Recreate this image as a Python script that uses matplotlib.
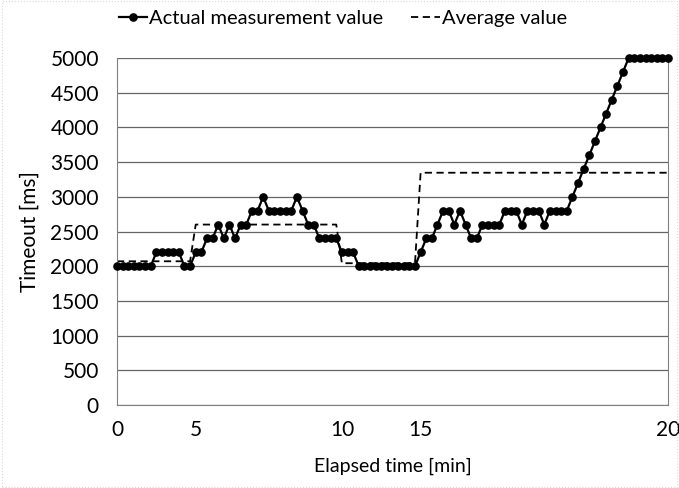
import numpy as np
import matplotlib.pyplot as plt
from matplotlib.patches import Rectangle

plt.rcParams['font.family'] = ['Lato', 'DejaVu Sans']

# Timeout per sample [ms]
measured = [
    2000, 2000, 2000, 2000, 2000, 2000, 2000, 2200, 2200, 2200,
    2200, 2200, 2000, 2000, 2200, 2200, 2400, 2400, 2600, 2400,
    2600, 2400, 2600, 2600, 2800, 2800, 3000, 2800, 2800, 2800,
    2800, 2800, 3000, 2800, 2600, 2600, 2400, 2400, 2400, 2400,
    2200, 2200, 2200, 2000, 2000, 2000, 2000, 2000, 2000, 2000,
    2000, 2000, 2000, 2000, 2200, 2400, 2400, 2600, 2800, 2800,
    2600, 2800, 2600, 2400, 2400, 2600, 2600, 2600, 2600, 2800,
    2800, 2800, 2600, 2800, 2800, 2800, 2600, 2800, 2800, 2800,
    2800, 3000, 3200, 3400, 3600, 3800, 4000, 4200, 4400, 4600,
    4800, 5000, 5000, 5000, 5000, 5000, 5000, 5000, 5000,
]

# Average timeout for each 5-minute block, and samples in each block
avg_levels = [2071, 2600, 2043, 3347]
avg_counts = [14, 26, 14, 45]

# Sample index where each elapsed-time label sits
tick_idx = [0, 14, 40, 54, 98]
tick_labels = ['0', '5', '10', '15', '20']

x = np.arange(len(measured))
average = np.repeat(avg_levels, avg_counts)

fig = plt.figure(figsize=(6.79, 4.88), dpi=100)
ax = fig.add_axes([0.1723, 0.1701, 0.8115, 0.711])

ax.plot(x, measured, color='black', lw=1.6, marker='o', ms=5.2,
        label='Actual measurement value', clip_on=False, zorder=3)
ax.plot(x, average, color='black', lw=1.3, ls=(0, (4, 2.5)),
        label='Average value', zorder=2)

ax.set_xlim(0, len(measured) - 1)
ax.set_ylim(0, 5000)
ax.set_yticks(np.arange(0, 5001, 500))
ax.set_xticks(tick_idx)
ax.set_xticklabels(tick_labels)
ax.tick_params(length=0, labelsize=15)
ax.tick_params(axis='y', pad=13)
ax.tick_params(axis='x', pad=11)

ax.grid(axis='y', color='#666666', lw=0.9)
ax.set_axisbelow(True)
for side in ['left', 'bottom', 'right']:
    ax.spines[side].set_color('#808080')
ax.spines['top'].set_visible(False)

ax.set_xlabel('Elapsed time [min]', fontsize=14)
ax.set_ylabel('Timeout [ms]', fontsize=15)
ax.xaxis.set_label_coords(0.5, -0.152)
ax.yaxis.set_label_coords(-0.141, 0.5)

ax.legend(loc='center', bbox_to_anchor=(0.505, 0.963), bbox_transform=fig.transFigure,
          ncol=2, frameon=False, fontsize=14.5, handlelength=1.4,
          handletextpad=0.1, columnspacing=1.4)

# light chart border
fig.patches.append(Rectangle((0.003, 0.003), 0.994, 0.994, transform=fig.transFigure,
                             fill=False, ec='#d9d9d9', lw=0.8, ls=':'))

fig.savefig('out.png', dpi=100)
